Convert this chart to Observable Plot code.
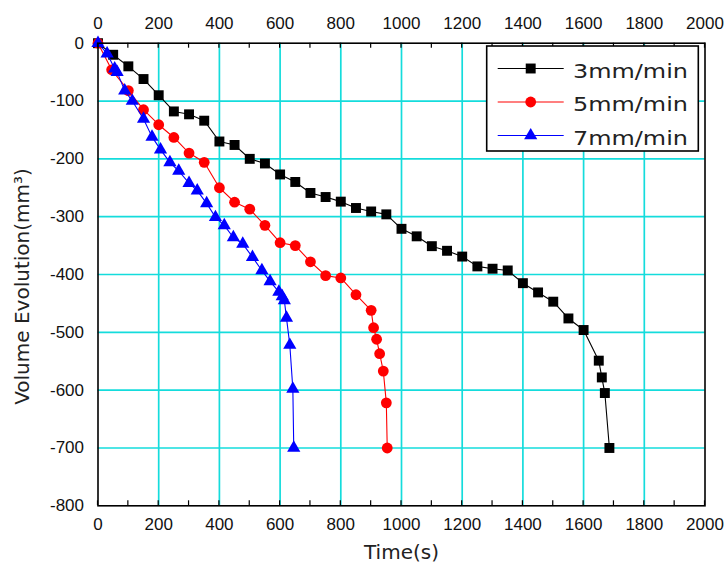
<!DOCTYPE html>
<html>
<head>
<meta charset="utf-8">
<script src="https://cdn.jsdelivr.net/npm/d3@7"></script>
<script src="https://cdn.jsdelivr.net/npm/@observablehq/plot@0.6"></script>
<style>
  body { margin: 0; background: #fff; }
  #chart svg { display: block; }
</style>
</head>
<body>
<div id="chart"></div>
<script>
// Series definitions
const seriesNames = ["3mm/min", "5mm/min", "7mm/min"];
const seriesColors = ["#000000", "#ff0000", "#0000ff"];
const seriesSymbols = ["square", "circle", "triangle"];
const seriesRadius = [5.6, 5.4, 4.9];

// Time (s) and volume evolution (mm³) for each feed rate
const time3 = [0, 50, 100, 150, 200, 250, 300, 350, 400, 450, 500, 550, 600, 650, 700, 750, 800, 850, 900, 950, 1000, 1050, 1100, 1150, 1200, 1250, 1300, 1350, 1400, 1450, 1500, 1550, 1600, 1650, 1660, 1670, 1685];
const vol3 = [0, -20, -40, -62, -90, -118, -123, -134, -170, -176, -200, -208, -227, -240, -259, -266, -274, -285, -291, -296, -321, -334, -351, -359, -369, -386, -390, -393, -415, -431, -447, -476, -496, -549, -578, -605, -700];

const time5 = [0, 45, 100, 150, 200, 250, 300, 350, 400, 450, 500, 550, 600, 650, 700, 750, 800, 850, 900, 908, 918, 928, 940, 950, 953];
const vol5 = [0, -46, -82, -115, -141, -163, -190, -206, -250, -275, -287, -315, -345, -350, -378, -402, -406, -435, -462, -492, -512, -537, -567, -622, -700];

const time7 = [0, 30, 55, 63, 88, 113, 150, 178, 206, 237, 266, 300, 327, 358, 387, 416, 446, 477, 509, 540, 567, 596, 607, 614, 621, 632, 642, 645];
const vol7 = [0, -18, -44, -50, -82, -100, -131, -162, -184, -206, -221, -242, -255, -277, -301, -315, -336, -347, -370, -393, -412, -430, -438, -445, -475, -522, -598, -700];

// Axis ticks
const xTickValues = [0, 200, 400, 600, 800, 1000, 1200, 1400, 1600, 1800, 2000];
const xMinorTicks = [100, 300, 500, 700, 900, 1100, 1300, 1500, 1700, 1900];
const yTickValues = [0, -100, -200, -300, -400, -500, -600, -700, -800];
const xGridValues = [200, 400, 600, 800, 1000, 1200, 1400, 1600, 1800];
const yGridValues = [-100, -200, -300, -400, -500, -600, -700];

const xTitle = "Time(s)";
const yTitle = "Volume Evolution(mm³)";

const seriesTimes = [time3, time5, time7];
const seriesVols = [vol3, vol5, vol7];
const rows = seriesNames.map((name, i) =>
  seriesTimes[i].map((t, j) => ({series: name, t, v: seriesVols[i][j]}))
);

const tickFont = "Liberation Sans, Arial, sans-serif";
const titleFont = "DejaVu Sans, Verdana, sans-serif";
const fmt = d => (d < 0 ? "-" + Math.abs(d) : String(d));

const seriesMarks = rows.flatMap((data, i) => [
  Plot.line(data, {x: "t", y: "v", stroke: seriesColors[i], strokeWidth: 1.1}),
  Plot.dot(data, {x: "t", y: "v", symbol: () => seriesSymbols[i], fill: seriesColors[i], stroke: "none", r: seriesRadius[i]})
]);

const chart = Plot.plot({
  width: 724,
  height: 571,
  marginLeft: 97.5,
  marginRight: 19.5,
  marginTop: 42.7,
  marginBottom: 65.7,
  style: {background: "#fff", fontFamily: tickFont, fontSize: "17px", color: "#111"},
  x: {domain: [0, 2000]},
  y: {domain: [-800, 0]},
  symbol: {type: "identity"},
  marks: [
    Plot.gridX(xGridValues, {stroke: "#14dcdc", strokeOpacity: 1, strokeWidth: 1.7}),
    Plot.gridY(yGridValues, {stroke: "#14dcdc", strokeOpacity: 1, strokeWidth: 1.7}),
    Plot.axisX(xTickValues, {anchor: "bottom", tickSize: 0, tickPadding: 12, tickFormat: fmt, label: null}),
    Plot.axisX(xTickValues, {anchor: "top", tickSize: 0, tickPadding: 14, tickFormat: fmt, label: null}),
    Plot.axisY(yTickValues, {anchor: "left", tickSize: 0, tickPadding: 14, tickFormat: fmt, label: null}),
    ...seriesMarks,
    Plot.frame({stroke: "#000", strokeWidth: 1.6}),
    Plot.text([xTitle], {frameAnchor: "bottom", dy: 53, fontSize: 20, fontFamily: titleFont, fill: "#222"}),
    Plot.text([yTitle], {frameAnchor: "left", textAnchor: "middle", dx: -75.5, dy: 12, rotate: -90, fontSize: 20, fontFamily: titleFont, fill: "#222"})
  ]
});

document.getElementById("chart").appendChild(chart);

const svg = d3.select(chart);
const xs = chart.scale("x");
const ys = chart.scale("y");
const yBottom = ys.apply(-800);
const yTop = ys.apply(0);

// Inward tick marks on the top and bottom edges, every 100 s
const ticks = svg.append("g").attr("stroke", "#000").attr("stroke-width", 1.2);
[...xTickValues, ...xMinorTicks].forEach(v => {
  const px = xs.apply(v);
  ticks.append("line").attr("x1", px).attr("x2", px).attr("y1", yBottom).attr("y2", yBottom - 5);
  ticks.append("line").attr("x1", px).attr("x2", px).attr("y1", yTop).attr("y2", yTop + 5);
});

// Legend box in the upper-right corner of the plot
const legend = svg.append("g").attr("transform", "translate(486.7,46)");
legend.append("rect")
  .attr("width", 211.6).attr("height", 105)
  .attr("fill", "#fff").attr("stroke", "#000").attr("stroke-width", 1.6);
const symbolTypes = {square: d3.symbolSquare, circle: d3.symbolCircle, triangle: d3.symbolTriangle};
seriesNames.forEach((name, i) => {
  const y = 22.5 + i * 33.5;
  legend.append("line")
    .attr("x1", 11).attr("x2", 77).attr("y1", y).attr("y2", y)
    .attr("stroke", seriesColors[i]).attr("stroke-width", 1.1);
  legend.append("path")
    .attr("transform", `translate(44,${y})`)
    .attr("d", d3.symbol(symbolTypes[seriesSymbols[i]], Math.PI * seriesRadius[i] ** 2)())
    .attr("fill", seriesColors[i]);
  legend.append("text")
    .attr("x", 86.3).attr("y", y + 9)
    .attr("text-anchor", "start")
    .attr("font-family", titleFont).attr("font-size", 20)
    .attr("fill", "#222")
    .attr("textLength", 115).attr("lengthAdjust", "spacingAndGlyphs")
    .text(name);
});
</script>
</body>
</html>
